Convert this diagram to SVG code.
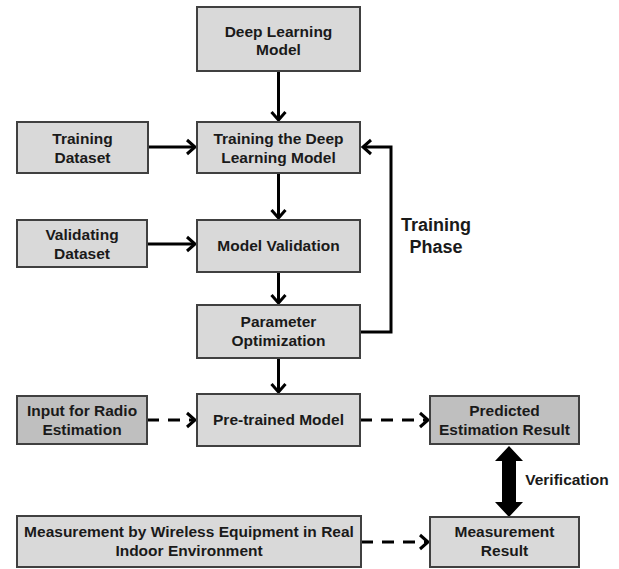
<svg xmlns="http://www.w3.org/2000/svg" width="619" height="569" viewBox="0 0 619 569">
<style>
.box{fill:#d9d9d9;stroke:#404040;stroke-width:2}
.dark{fill:#bfbfbf}
.t{font-family:"Liberation Sans",Arial,sans-serif;font-weight:bold;font-size:15.5px;fill:#1a1a1a;text-anchor:middle}
.c{fill:none;stroke:#000;stroke-width:3}
.d{stroke-dasharray:12 9}
</style>
<defs>
<marker id="ah" markerUnits="userSpaceOnUse" markerWidth="20" markerHeight="20" refX="12" refY="10" orient="auto">
<path d="M4,3 L12,10 L4,17" fill="none" stroke="#000" stroke-width="3"/>
</marker>
</defs>
<rect width="619" height="569" fill="#fff"/>
<g id="connectors">
<line class="c" x1="278.5" y1="71" x2="278.5" y2="120" marker-end="url(#ah)"/>
<line class="c" x1="278.5" y1="173" x2="278.5" y2="218" marker-end="url(#ah)"/>
<line class="c" x1="278.5" y1="272" x2="278.5" y2="303" marker-end="url(#ah)"/>
<line class="c" x1="278.5" y1="358" x2="278.5" y2="392" marker-end="url(#ah)"/>
<line class="c" x1="148" y1="147" x2="195" y2="147" marker-end="url(#ah)"/>
<line class="c" x1="147" y1="244" x2="195" y2="244" marker-end="url(#ah)"/>
<polyline class="c" points="360,332 391,332 391,147 363,147" marker-end="url(#ah)"/>
<line class="c d" x1="147" y1="420" x2="195" y2="420" marker-end="url(#ah)"/>
<line class="c d" x1="360" y1="420" x2="428" y2="420" marker-end="url(#ah)"/>
<line class="c d" x1="361" y1="542" x2="428" y2="542" marker-end="url(#ah)"/>
<path d="M509,446 L523,461 L516,461 L516,502 L523,502 L509,517 L495,502 L502,502 L502,461 L495,461 Z" fill="#000"/>
<text class="t" x="567" y="485">Verification</text>
<text class="t" x="436" y="231" style="font-size:18px">Training</text>
<text class="t" x="436" y="253" style="font-size:18px">Phase</text>
</g>
<g id="deep-learning-model">
<rect class="box" x="197" y="7" width="163" height="64"/>
<text class="t" x="278.5" y="37">Deep Learning</text>
<text class="t" x="278.5" y="55">Model</text>
</g>
<g id="training-model">
<rect class="box" x="197" y="122" width="163" height="51"/>
<text class="t" x="278.5" y="144">Training the Deep</text>
<text class="t" x="278.5" y="163">Learning Model</text>
</g>
<g id="training-dataset">
<rect class="box" x="17" y="122" width="131" height="51"/>
<text class="t" x="82.5" y="144">Training</text>
<text class="t" x="82.5" y="163">Dataset</text>
</g>
<g id="validating-dataset">
<rect class="box" x="17" y="220" width="130" height="47"/>
<text class="t" x="82" y="240">Validating</text>
<text class="t" x="82" y="259">Dataset</text>
</g>
<g id="model-validation">
<rect class="box" x="197" y="220" width="163" height="52"/>
<text class="t" x="278.5" y="251">Model Validation</text>
</g>
<g id="parameter-optimization">
<rect class="box" x="197" y="305" width="163" height="53"/>
<text class="t" x="278.5" y="327">Parameter</text>
<text class="t" x="278.5" y="346">Optimization</text>
</g>
<g id="pretrained-model">
<rect class="box" x="197" y="394" width="163" height="52"/>
<text class="t" x="278.5" y="425">Pre-trained Model</text>
</g>
<g id="input-radio">
<rect class="box dark" x="17" y="396" width="130" height="48"/>
<text class="t" x="82" y="416">Input for Radio</text>
<text class="t" x="82" y="435">Estimation</text>
</g>
<g id="predicted-result">
<rect class="box dark" x="430" y="396" width="149" height="48"/>
<text class="t" x="504.5" y="416">Predicted</text>
<text class="t" x="504.5" y="435">Estimation Result</text>
</g>
<g id="measurement-wireless">
<rect class="box" x="17" y="516" width="344" height="51"/>
<text class="t" x="189" y="537">Measurement by Wireless Equipment in Real</text>
<text class="t" x="189" y="556">Indoor Environment</text>
</g>
<g id="measurement-result">
<rect class="box" x="430" y="517" width="149" height="50"/>
<text class="t" x="504.5" y="537">Measurement</text>
<text class="t" x="504.5" y="556">Result</text>
</g>
</svg>
